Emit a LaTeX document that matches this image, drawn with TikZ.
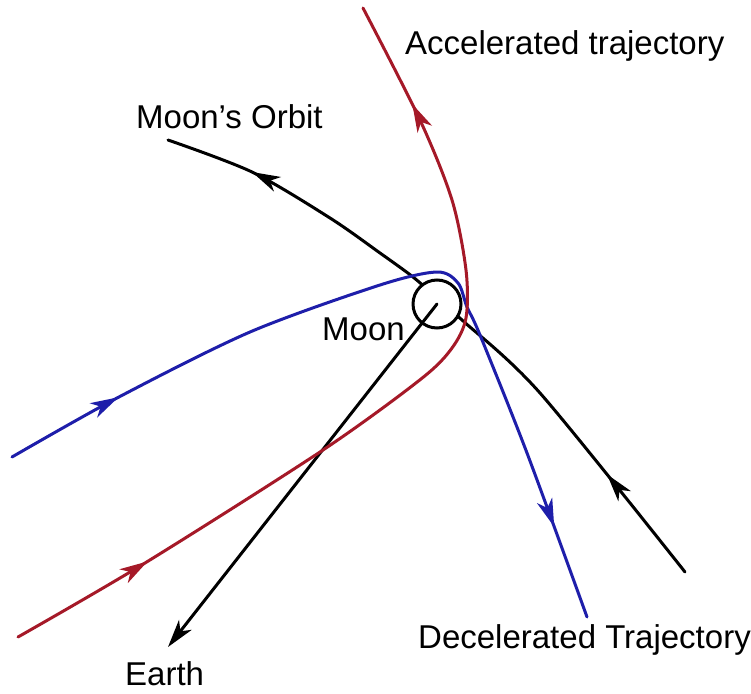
\documentclass[tikz,border=0pt]{standalone}
\usepackage{fontspec}
\setmainfont{Liberation Sans}
\usetikzlibrary{arrows.meta,decorations.markings}
\definecolor{redline}{RGB}{165,25,40}
\definecolor{redhead}{RGB}{235,20,30}
\definecolor{blueline}{RGB}{30,30,170}
\definecolor{bluehead}{RGB}{40,60,245}
\tikzset{
  traj/.style={line width=3pt, line cap=round, line join=round},
  head/.tip={Stealth[length=28pt,width=16pt,inset=8pt]},
  lbl/.style={inner sep=0pt, anchor=base west, font=\fontsize{33}{38}\selectfont},
}
\begin{document}
\begin{tikzpicture}[x=1pt,y=-1pt]
\useasboundingbox (0,0) rectangle (751,693);
\fill[white] (0,0) rectangle (751,693);

% Moon's orbit (black), travelling from lower right to upper left
\draw[traj, black, postaction={decorate}, decoration={markings,
    mark=at position 90pt with {\arrowreversed{head}},
    mark=at position -125pt with {\arrowreversed{head}}}]
  plot[smooth] coordinates {(168,140) (252,172) (330,218) (380,253) (413,277)
    (437,298) (462,320) (540,393) (685,572)};

% Moon
\node[circle, draw, line width=3pt, fill=white, minimum size=48pt, inner sep=0pt] (moon) at (437,304) {};

% Earth direction
\coordinate (earthtip) at (168,647);
\draw[traj, black, -{head}] (moon.center) -- (earthtip);

% Decelerated trajectory (blue)
\draw[traj, blueline, postaction={decorate}, decoration={markings,
    mark=at position 122pt with {\arrow[fill=bluehead]{head}},
    mark=at position -96pt with {\arrow[fill=bluehead]{head}}}]
  plot[smooth] coordinates {(12,457) (117,398) (250,332) (380,285)
    (437,272) (458,283) (467,307) (480,335) (527,453) (587,617)};

% Accelerated trajectory (red)
\draw[traj, redline, postaction={decorate}, decoration={markings,
    mark=at position 150pt with {\arrow[fill=redhead]{head}},
    mark=at position -108pt with {\arrow[fill=redhead]{head}}}]
  plot[smooth] coordinates {(18,637) (145,563) (323,450) (421,379)
    (452,348) (466,318) (466,270) (452,200) (420,120) (363,8)};

% Labels
\node[lbl] (acc) at (405,55) {Accelerated trajectory};
\node[lbl] (orbit) at (136,128) {Moon's Orbit};
\node[lbl] (moonlbl) at (322,340) {Moon};
\node[lbl] (dec) at (418,648) {Decelerated Trajectory};
\node[lbl] (earth) at (125,685) {Earth};
\end{tikzpicture}
\end{document}
